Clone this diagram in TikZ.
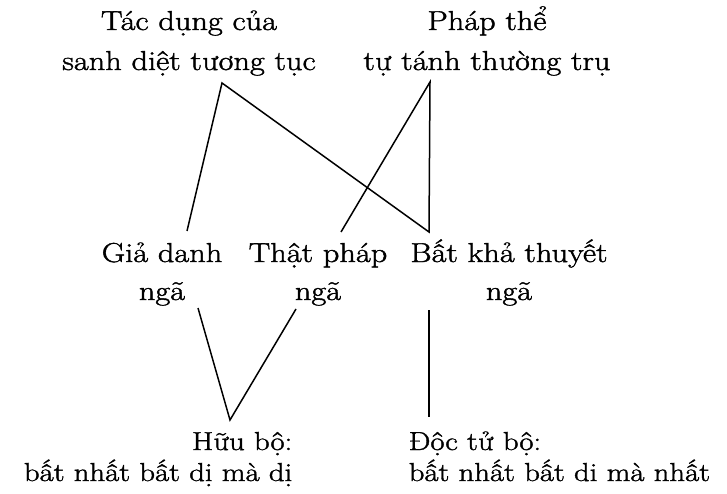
\documentclass[tikz,border=0pt]{standalone}
\usepackage{fontspec}
\setmainfont[FakeStretch=1.18, FakeBold=1.5]{Latin Modern Roman}

\begin{document}
\begin{tikzpicture}[x=1pt, y=-1pt, line width=1.5pt,
    lbl/.style={font=\fontsize{27.4}{40}\selectfont, inner sep=0pt, align=center},
    sublbl/.style={font=\fontsize{26}{31}\selectfont, inner sep=0pt}]
    \useasboundingbox (0,0) rectangle (727,494);

    % top row
    \node[lbl, anchor=base] (tacdung) at (189,70) {Tác dụng của\\sanh diệt tương tục};
    \node[lbl, anchor=base] (phapthe) at (487,70) {Pháp thể\\tự tánh thường trụ};

    % middle row
    \node[lbl, anchor=base, font=\fontsize{27.4}{38}\selectfont] (giadanh) at (162,300) {Giả danh\\ngã};
    \node[lbl, anchor=base, font=\fontsize{27.4}{38}\selectfont] (thatphap) at (318,300) {Thật pháp\\ngã};
    \node[lbl, anchor=base, font=\fontsize{27.4}{38}\selectfont] (batkha) at (509,300) {Bất khả thuyết\\ngã};

    % bottom row
    \node[sublbl, align=right, anchor=base east] (huubo) at (293,481)
        {Hữu bộ:\\bất nhất bất dị mà dị};
    \node[sublbl, align=left, anchor=base west] (doctu) at (408,481)
        {Độc tử bộ:\\bất nhất bất di mà nhất};

    % end points of the lines
    \coordinate (tacdung-b) at (222,83);
    \coordinate (phapthe-b) at (430,82);
    \coordinate (giadanh-t) at (187,231);
    \coordinate (giadanh-b) at (198,308);
    \coordinate (thatphap-t) at (341,232);
    \coordinate (thatphap-b) at (296,309);
    \coordinate (batkha-t) at (429,232);
    \coordinate (batkha-b) at (429,310);
    \coordinate (huubo-t) at (230,420);
    \coordinate (doctu-t) at (429,417);

    \draw (giadanh-t) -- (tacdung-b) -- (batkha-t) -- (phapthe-b) -- (thatphap-t);
    \draw (giadanh-b) -- (huubo-t) -- (thatphap-b);
    \draw (batkha-b) -- (doctu-t);
\end{tikzpicture}
\end{document}
